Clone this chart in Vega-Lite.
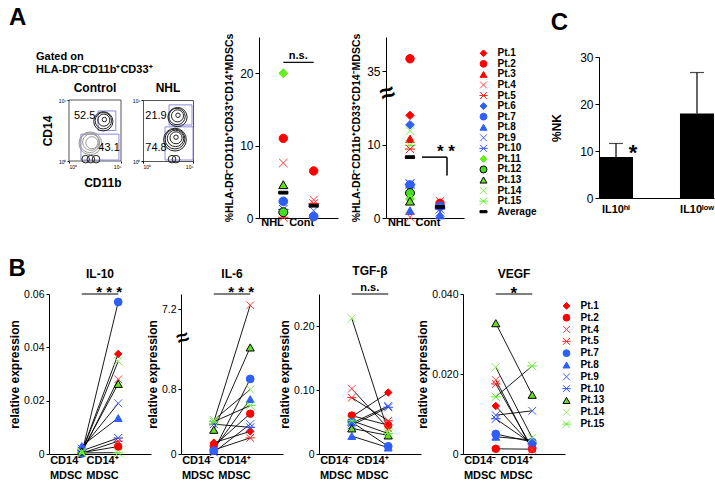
{
"$schema":"https://vega.github.io/schema/vega-lite/v6.json",
"padding":{"left":8,"top":6,"right":2,"bottom":2},
"background":"white",
"config":{"view":{"stroke":null},"font":"Liberation Sans",
 "axis":{"grid":false,"domainColor":"#000","tickColor":"#000","labelColor":"#000","titleColor":"#000","labelFontSize":12,"titleFontSize":11,"titleFontWeight":"bold","tickSize":4,"labelPadding":2,"titlePadding":4,"labelFont":"Liberation Sans","titleFont":"Liberation Sans"},
 "point":{"opacity":1,"filled":true},"text":{"color":"#000"},
 "title":{"color":"#000","font":"Liberation Sans"}},
"datasets":{
 "pct":[
  {"panel":"CD14+","grp":"NHL","pt":"Pt.11","v":20.0},{"panel":"CD14+","grp":"NHL","pt":"Pt.2","v":11.0},{"panel":"CD14+","grp":"NHL","pt":"Pt.4","v":7.6},{"panel":"CD14+","grp":"NHL","pt":"Pt.13","v":4.6},{"panel":"CD14+","grp":"NHL","pt":"Pt.7","v":2.3},{"panel":"CD14+","grp":"NHL","pt":"Pt.10","v":1.2},{"panel":"CD14+","grp":"NHL","pt":"Pt.5","v":0.1},{"panel":"CD14+","grp":"NHL","pt":"Pt.12","v":0.8},{"panel":"CD14+","grp":"NHL","pt":"Average","v":3.5},
  {"panel":"CD14+","grp":"Cont","pt":"Pt.2","v":6.5},{"panel":"CD14+","grp":"Cont","pt":"Pt.4","v":2.5},{"panel":"CD14+","grp":"Cont","pt":"Pt.5","v":2.0},{"panel":"CD14+","grp":"Cont","pt":"Pt.9","v":1.0},{"panel":"CD14+","grp":"Cont","pt":"Pt.7","v":0.2},{"panel":"CD14+","grp":"Cont","pt":"Average","v":1.7},
  {"panel":"CD14-","grp":"NHL","pt":"Pt.2","v":36.8},{"panel":"CD14-","grp":"NHL","pt":"Pt.1","v":14.0},{"panel":"CD14-","grp":"NHL","pt":"Pt.6","v":12.7},{"panel":"CD14-","grp":"NHL","pt":"Pt.14","v":11.9},{"panel":"CD14-","grp":"NHL","pt":"Pt.3","v":10.8},{"panel":"CD14-","grp":"NHL","pt":"Pt.15","v":9.9},{"panel":"CD14-","grp":"NHL","pt":"Pt.5","v":9.4},{"panel":"CD14-","grp":"NHL","pt":"Pt.9","v":4.7},{"panel":"CD14-","grp":"NHL","pt":"Pt.10","v":4.6},{"panel":"CD14-","grp":"NHL","pt":"Pt.7","v":4.5},{"panel":"CD14-","grp":"NHL","pt":"Pt.12","v":3.4},{"panel":"CD14-","grp":"NHL","pt":"Pt.11","v":2.6},{"panel":"CD14-","grp":"NHL","pt":"Pt.13","v":2.3},{"panel":"CD14-","grp":"NHL","pt":"Pt.8","v":1.0},{"panel":"CD14-","grp":"NHL","pt":"Pt.4","v":0.1},{"panel":"CD14-","grp":"NHL","pt":"Average","v":8.3},
  {"panel":"CD14-","grp":"Cont","pt":"Pt.4","v":2.3},{"panel":"CD14-","grp":"Cont","pt":"Pt.2","v":2.0},{"panel":"CD14-","grp":"Cont","pt":"Pt.7","v":1.6},{"panel":"CD14-","grp":"Cont","pt":"Pt.10","v":1.2},{"panel":"CD14-","grp":"Cont","pt":"Pt.9","v":0.8},{"panel":"CD14-","grp":"Cont","pt":"Pt.8","v":0.4},{"panel":"CD14-","grp":"Cont","pt":"Average","v":1.5}
 ],
 "legA":[{"pt":"Pt.1"},{"pt":"Pt.2"},{"pt":"Pt.3"},{"pt":"Pt.4"},{"pt":"Pt.5"},{"pt":"Pt.6"},{"pt":"Pt.7"},{"pt":"Pt.8"},{"pt":"Pt.9"},{"pt":"Pt.10"},{"pt":"Pt.11"},{"pt":"Pt.12"},{"pt":"Pt.13"},{"pt":"Pt.14"},{"pt":"Pt.15"},{"pt":"Average"}],
 "legB":[{"pt":"Pt.1"},{"pt":"Pt.2"},{"pt":"Pt.4"},{"pt":"Pt.5"},{"pt":"Pt.7"},{"pt":"Pt.8"},{"pt":"Pt.9"},{"pt":"Pt.10"},{"pt":"Pt.13"},{"pt":"Pt.14"},{"pt":"Pt.15"}],
 "nk":[{"grp":"IL10ʰⁱ","v":8.7,"err":11.6},{"grp":"IL10ˡᵒʷ","v":18.0,"err":26.7}],
 "frame":[{"x1":0,"x2":5,"y1":0,"y2":5}],
 "gates":[{"plot":"Control","x1":2.8,"x2":4.5,"y1":2.5,"y2":4.1},{"plot":"Control","x1":1.15,"x2":4.8,"y1":0.08,"y2":2.2},{"plot":"NHL","x1":2.6,"x2":4.9,"y1":2.95,"y2":4.6},{"plot":"NHL","x1":2.2,"x2":5.0,"y1":0.08,"y2":2.8}],
 "contours":[
  {"plot":"Control","cx":3.4,"cy":3.4,"lev":1,"tone":"dark"},{"plot":"Control","cx":3.35,"cy":3.35,"lev":2,"tone":"dark"},{"plot":"Control","cx":3.3,"cy":3.3,"lev":3,"tone":"dark"},{"plot":"Control","cx":3.3,"cy":3.25,"lev":3.8,"tone":"dark"},
  {"plot":"Control","cx":2.2,"cy":1.5,"lev":2,"tone":"light"},{"plot":"Control","cx":2.1,"cy":1.55,"lev":3,"tone":"light"},{"plot":"Control","cx":2.0,"cy":1.5,"lev":4,"tone":"light"},{"plot":"Control","cx":2.05,"cy":1.45,"lev":5,"tone":"light"},
  {"plot":"Control","cx":1.6,"cy":0.15,"lev":1.3,"tone":"dark"},{"plot":"Control","cx":2.1,"cy":0.15,"lev":1.3,"tone":"dark"},{"plot":"Control","cx":2.6,"cy":0.15,"lev":1.3,"tone":"dark"},
  {"plot":"NHL","cx":3.5,"cy":3.75,"lev":1,"tone":"dark"},{"plot":"NHL","cx":3.45,"cy":3.7,"lev":2,"tone":"dark"},{"plot":"NHL","cx":3.4,"cy":3.65,"lev":3,"tone":"dark"},{"plot":"NHL","cx":3.45,"cy":3.6,"lev":3.8,"tone":"dark"},
  {"plot":"NHL","cx":3.3,"cy":1.95,"lev":1,"tone":"dark"},{"plot":"NHL","cx":3.3,"cy":1.9,"lev":2,"tone":"dark"},{"plot":"NHL","cx":3.25,"cy":1.85,"lev":3,"tone":"dark"},{"plot":"NHL","cx":3.2,"cy":1.8,"lev":4,"tone":"dark"},{"plot":"NHL","cx":3.2,"cy":1.75,"lev":5,"tone":"dark"},
  {"plot":"NHL","cx":2.9,"cy":0.15,"lev":1.3,"tone":"dark"},{"plot":"NHL","cx":3.3,"cy":0.15,"lev":1.3,"tone":"dark"}
 ],
 "flowlab":[{"plot":"Control","lx":1.5,"ly":3.7,"pct":"52.5"},{"plot":"Control","lx":3.85,"ly":1.07,"pct":"43.1"},{"plot":"NHL","lx":1.3,"ly":3.7,"pct":"21.9"},{"plot":"NHL","lx":1.3,"ly":1.07,"pct":"74.8"}],
 "sig":[
  {"cy":"IL-10","g":"CD14⁻|MDSC","g2":"CD14⁺|MDSC","v":0.06,"s":"* * *"},
  {"cy":"IL-6","g":"CD14⁻|MDSC","g2":"CD14⁺|MDSC","v":7.4,"s":"* * *"},
  {"cy":"TGF","g":"CD14⁻|MDSC","g2":"CD14⁺|MDSC","v":0.25,"s":"n.s."},
  {"cy":"VEGF","g":"CD14⁻|MDSC","g2":"CD14⁺|MDSC","v":0.04,"s":"*"}
 ],
 "expr":[
  {"cy":"IL-10","g":"CD14⁻|MDSC","pt":"Pt.1","v":0.0008},{"cy":"IL-10","g":"CD14⁺|MDSC","pt":"Pt.1","v":0.0375},
  {"cy":"IL-10","g":"CD14⁻|MDSC","pt":"Pt.2","v":0.0005},{"cy":"IL-10","g":"CD14⁺|MDSC","pt":"Pt.2","v":0.0028},
  {"cy":"IL-10","g":"CD14⁻|MDSC","pt":"Pt.4","v":0.0004},{"cy":"IL-10","g":"CD14⁺|MDSC","pt":"Pt.4","v":0.028},
  {"cy":"IL-10","g":"CD14⁻|MDSC","pt":"Pt.5","v":0.0003},{"cy":"IL-10","g":"CD14⁺|MDSC","pt":"Pt.5","v":0.0048},
  {"cy":"IL-10","g":"CD14⁻|MDSC","pt":"Pt.7","v":0.0002},{"cy":"IL-10","g":"CD14⁺|MDSC","pt":"Pt.7","v":0.057},
  {"cy":"IL-10","g":"CD14⁻|MDSC","pt":"Pt.8","v":0.003},{"cy":"IL-10","g":"CD14⁺|MDSC","pt":"Pt.8","v":0.0135},
  {"cy":"IL-10","g":"CD14⁻|MDSC","pt":"Pt.9","v":0.002},{"cy":"IL-10","g":"CD14⁺|MDSC","pt":"Pt.9","v":0.019},
  {"cy":"IL-10","g":"CD14⁻|MDSC","pt":"Pt.10","v":0.0012},{"cy":"IL-10","g":"CD14⁺|MDSC","pt":"Pt.10","v":0.006},
  {"cy":"IL-10","g":"CD14⁻|MDSC","pt":"Pt.13","v":0.001},{"cy":"IL-10","g":"CD14⁺|MDSC","pt":"Pt.13","v":0.0263},
  {"cy":"IL-10","g":"CD14⁻|MDSC","pt":"Pt.14","v":0.0008},{"cy":"IL-10","g":"CD14⁺|MDSC","pt":"Pt.14","v":0.0348},
  {"cy":"IL-10","g":"CD14⁻|MDSC","pt":"Pt.15","v":0.0004},{"cy":"IL-10","g":"CD14⁺|MDSC","pt":"Pt.15","v":0.0005},
  {"cy":"IL-6","g":"CD14⁻|MDSC","pt":"Pt.1","v":0.14},{"cy":"IL-6","g":"CD14⁺|MDSC","pt":"Pt.1","v":0.28},
  {"cy":"IL-6","g":"CD14⁻|MDSC","pt":"Pt.2","v":0.10},{"cy":"IL-6","g":"CD14⁺|MDSC","pt":"Pt.2","v":0.50},
  {"cy":"IL-6","g":"CD14⁻|MDSC","pt":"Pt.4","v":0.40},{"cy":"IL-6","g":"CD14⁺|MDSC","pt":"Pt.4","v":7.25},
  {"cy":"IL-6","g":"CD14⁻|MDSC","pt":"Pt.5","v":0.05},{"cy":"IL-6","g":"CD14⁺|MDSC","pt":"Pt.5","v":0.20},
  {"cy":"IL-6","g":"CD14⁻|MDSC","pt":"Pt.7","v":0.04},{"cy":"IL-6","g":"CD14⁺|MDSC","pt":"Pt.7","v":0.93},
  {"cy":"IL-6","g":"CD14⁻|MDSC","pt":"Pt.8","v":0.06},{"cy":"IL-6","g":"CD14⁺|MDSC","pt":"Pt.8","v":0.68},
  {"cy":"IL-6","g":"CD14⁻|MDSC","pt":"Pt.9","v":0.02},{"cy":"IL-6","g":"CD14⁺|MDSC","pt":"Pt.9","v":0.37},
  {"cy":"IL-6","g":"CD14⁻|MDSC","pt":"Pt.10","v":0.37},{"cy":"IL-6","g":"CD14⁺|MDSC","pt":"Pt.10","v":0.33},
  {"cy":"IL-6","g":"CD14⁻|MDSC","pt":"Pt.13","v":0.30},{"cy":"IL-6","g":"CD14⁺|MDSC","pt":"Pt.13","v":1.32},
  {"cy":"IL-6","g":"CD14⁻|MDSC","pt":"Pt.14","v":0.42},{"cy":"IL-6","g":"CD14⁺|MDSC","pt":"Pt.14","v":0.80},
  {"cy":"IL-6","g":"CD14⁻|MDSC","pt":"Pt.15","v":0.40},{"cy":"IL-6","g":"CD14⁺|MDSC","pt":"Pt.15","v":0.60},
  {"cy":"TGF","g":"CD14⁻|MDSC","pt":"Pt.1","v":0.058},{"cy":"TGF","g":"CD14⁺|MDSC","pt":"Pt.1","v":0.096},
  {"cy":"TGF","g":"CD14⁻|MDSC","pt":"Pt.2","v":0.060},{"cy":"TGF","g":"CD14⁺|MDSC","pt":"Pt.2","v":0.045},
  {"cy":"TGF","g":"CD14⁻|MDSC","pt":"Pt.4","v":0.102},{"cy":"TGF","g":"CD14⁺|MDSC","pt":"Pt.4","v":0.040},
  {"cy":"TGF","g":"CD14⁻|MDSC","pt":"Pt.5","v":0.088},{"cy":"TGF","g":"CD14⁺|MDSC","pt":"Pt.5","v":0.052},
  {"cy":"TGF","g":"CD14⁻|MDSC","pt":"Pt.7","v":0.050},{"cy":"TGF","g":"CD14⁺|MDSC","pt":"Pt.7","v":0.012},
  {"cy":"TGF","g":"CD14⁻|MDSC","pt":"Pt.8","v":0.028},{"cy":"TGF","g":"CD14⁺|MDSC","pt":"Pt.8","v":0.010},
  {"cy":"TGF","g":"CD14⁻|MDSC","pt":"Pt.9","v":0.048},{"cy":"TGF","g":"CD14⁺|MDSC","pt":"Pt.9","v":0.075},
  {"cy":"TGF","g":"CD14⁻|MDSC","pt":"Pt.10","v":0.045},{"cy":"TGF","g":"CD14⁺|MDSC","pt":"Pt.10","v":0.073},
  {"cy":"TGF","g":"CD14⁻|MDSC","pt":"Pt.13","v":0.040},{"cy":"TGF","g":"CD14⁺|MDSC","pt":"Pt.13","v":0.029},
  {"cy":"TGF","g":"CD14⁻|MDSC","pt":"Pt.14","v":0.212},{"cy":"TGF","g":"CD14⁺|MDSC","pt":"Pt.14","v":0.035},
  {"cy":"TGF","g":"CD14⁻|MDSC","pt":"Pt.15","v":0.052},{"cy":"TGF","g":"CD14⁺|MDSC","pt":"Pt.15","v":0.032},
  {"cy":"VEGF","g":"CD14⁻|MDSC","pt":"Pt.1","v":0.0120},{"cy":"VEGF","g":"CD14⁺|MDSC","pt":"Pt.1","v":0.0020},
  {"cy":"VEGF","g":"CD14⁻|MDSC","pt":"Pt.2","v":0.0013},{"cy":"VEGF","g":"CD14⁺|MDSC","pt":"Pt.2","v":0.0012},
  {"cy":"VEGF","g":"CD14⁻|MDSC","pt":"Pt.4","v":0.0185},{"cy":"VEGF","g":"CD14⁺|MDSC","pt":"Pt.4","v":0.0010},
  {"cy":"VEGF","g":"CD14⁻|MDSC","pt":"Pt.5","v":0.0175},{"cy":"VEGF","g":"CD14⁺|MDSC","pt":"Pt.5","v":0.0015},
  {"cy":"VEGF","g":"CD14⁻|MDSC","pt":"Pt.7","v":0.0050},{"cy":"VEGF","g":"CD14⁺|MDSC","pt":"Pt.7","v":0.0030},
  {"cy":"VEGF","g":"CD14⁻|MDSC","pt":"Pt.8","v":0.0043},{"cy":"VEGF","g":"CD14⁺|MDSC","pt":"Pt.8","v":0.0035},
  {"cy":"VEGF","g":"CD14⁻|MDSC","pt":"Pt.9","v":0.0097},{"cy":"VEGF","g":"CD14⁺|MDSC","pt":"Pt.9","v":0.0108},
  {"cy":"VEGF","g":"CD14⁻|MDSC","pt":"Pt.10","v":0.0088},{"cy":"VEGF","g":"CD14⁺|MDSC","pt":"Pt.10","v":0.0025},
  {"cy":"VEGF","g":"CD14⁻|MDSC","pt":"Pt.13","v":0.0327},{"cy":"VEGF","g":"CD14⁺|MDSC","pt":"Pt.13","v":0.0148},
  {"cy":"VEGF","g":"CD14⁻|MDSC","pt":"Pt.14","v":0.0217},{"cy":"VEGF","g":"CD14⁺|MDSC","pt":"Pt.14","v":0.0040},
  {"cy":"VEGF","g":"CD14⁻|MDSC","pt":"Pt.15","v":0.0143},{"cy":"VEGF","g":"CD14⁺|MDSC","pt":"Pt.15","v":0.0220}
 ]
},
"resolve":{"scale":{"size":"independent","stroke":"independent","fill":"independent","shape":"independent","strokeWidth":"independent"}},
"columns":1,
"align":"none",
"spacing":30,
"concat":[
 {"hconcat":[
  {"resolve":{"scale":{"size":"independent","stroke":"independent","fill":"independent","shape":"independent","strokeWidth":"independent"}},
   "spacing":0,
   "vconcat":[
    {"width":162,"height":44,
     "data":{"values":[{"k":"a","s":"A"},{"k":"g1","s":"Gated on"},{"k":"g2","s":"HLA-DR⁻CD11b⁺CD33⁺"}]},
     "encoding":{"y":{"field":"k","type":"nominal","scale":{"type":"point","domain":["a","x1","x2","g1","g2"],"range":[-19,33],"padding":0},"axis":null},"text":{"field":"s"}},
     "layer":[
      {"transform":[{"filter":"datum.k=='a'"}],"mark":{"type":"text","align":"left","dx":-121,"fontSize":24,"fontWeight":"bold","baseline":"middle"}},
      {"transform":[{"filter":"datum.k!='a'"}],"mark":{"type":"text","align":"left","dx":-94,"fontSize":11,"fontWeight":"bold","baseline":"middle"}}
     ]},
    {"resolve":{"scale":{"size":"independent","stroke":"independent","fill":"independent","shape":"independent","strokeWidth":"independent"}},
     "spacing":9,
     "hconcat":[
      {"title":{"text":"Control","fontSize":12,"fontWeight":"bold","offset":3,"dx":10},"width":72,"height":61,
       "layer":[
        {"data":{"name":"frame"},"mark":{"type":"rect","fill":"#fff","fillOpacity":0,"stroke":"#555","strokeWidth":1},
         "encoding":{"x":{"field":"x1","type":"quantitative","scale":{"domain":[0,5],"range":[20,72],"nice":false,"zero":false},"axis":{"title":"CD11b","values":[0,1,2,3,4,5],"labelExpr":"'10'+['⁰','¹','²','³','⁴','⁵'][datum.value]","labelFontSize":5,"tickSize":2,"labelPadding":1,"titleFontSize":12,"titlePadding":8,"titleAnchor":"end","domain":false}},"x2":{"field":"x2"},
          "y":{"field":"y1","type":"quantitative","scale":{"domain":[0,5],"nice":false,"zero":false},"axis":{"title":"CD14","values":[0,1,2,3,4,5],"labelExpr":"'10'+['⁰','¹','²','³','⁴','⁵'][datum.value]","labelFontSize":5,"tickSize":2,"labelPadding":1,"titleFontSize":12,"titlePadding":4,"domain":false,"offset":-20}},"y2":{"field":"y2"}}},
        {"data":{"name":"gates"},"transform":[{"filter":"datum.plot=='Control'"}],"mark":{"type":"rect","fill":"#fff","fillOpacity":0,"stroke":"#8a8ae0","strokeWidth":1},
         "encoding":{"x":{"field":"x1","type":"quantitative"},"x2":{"field":"x2"},"y":{"field":"y1","type":"quantitative"},"y2":{"field":"y2"}}},
        {"data":{"name":"contours"},"transform":[{"filter":"datum.plot=='Control'"}],"mark":{"type":"point","filled":false,"shape":"circle","strokeWidth":1},
         "encoding":{"x":{"field":"cx","type":"quantitative"},"y":{"field":"cy","type":"quantitative"},"size":{"field":"lev","type":"quantitative","scale":{"domain":[1,5],"range":[20,520]},"legend":null},"stroke":{"field":"tone","type":"nominal","scale":{"domain":["dark","light"],"range":["#222","#999"]},"legend":null}}},
        {"data":{"name":"flowlab"},"transform":[{"filter":"datum.plot=='Control'"}],"mark":{"type":"text","fontSize":11},
         "encoding":{"x":{"field":"lx","type":"quantitative"},"y":{"field":"ly","type":"quantitative"},"text":{"field":"pct"}}}
       ]},
      {"title":{"text":"NHL","fontSize":12,"fontWeight":"bold","offset":3},"width":50,"height":61,"view":{"stroke":"#555"},
       "layer":[
        {"data":{"name":"gates"},"transform":[{"filter":"datum.plot=='NHL'"}],"mark":{"type":"rect","fill":"#fff","fillOpacity":0,"stroke":"#8a8ae0","strokeWidth":1},
         "encoding":{"x":{"field":"x1","type":"quantitative","scale":{"domain":[0,5],"nice":false,"zero":false},"axis":{"title":null,"values":[0,1,2,3,4,5],"labelExpr":"'10'+['⁰','¹','²','³','⁴','⁵'][datum.value]","labelFontSize":5,"tickSize":2,"labelPadding":1,"domain":false}},"x2":{"field":"x2"},
          "y":{"field":"y1","type":"quantitative","scale":{"domain":[0,5],"nice":false,"zero":false},"axis":{"title":null,"values":[0,1,2,3,4,5],"labelExpr":"'10'+['⁰','¹','²','³','⁴','⁵'][datum.value]","labelFontSize":5,"tickSize":2,"labelPadding":1,"domain":false}},"y2":{"field":"y2"}}},
        {"data":{"name":"contours"},"transform":[{"filter":"datum.plot=='NHL'"}],"mark":{"type":"point","filled":false,"shape":"circle","strokeWidth":1},
         "encoding":{"x":{"field":"cx","type":"quantitative"},"y":{"field":"cy","type":"quantitative"},"size":{"field":"lev","type":"quantitative","scale":{"domain":[1,5],"range":[20,520]},"legend":null},"stroke":{"field":"tone","type":"nominal","scale":{"domain":["dark","light"],"range":["#222","#999"]},"legend":null}}},
        {"data":{"name":"flowlab"},"transform":[{"filter":"datum.plot=='NHL'"}],"mark":{"type":"text","fontSize":11},
         "encoding":{"x":{"field":"lx","type":"quantitative"},"y":{"field":"ly","type":"quantitative"},"text":{"field":"pct"}}}
       ]}
     ]}
   ]},
  {"width":79,"height":181,
   "layer":[
    {"data":{"values":[{"grp":"NHL","grp2":"Cont","v":21.5}]},"mark":{"type":"rule","color":"#000","strokeWidth":1.2},
     "encoding":{"x":{"field":"grp","type":"nominal","scale":{"type":"point","domain":["NHL","Cont"],"padding":0.8}},"x2":{"field":"grp2"},"y":{"field":"v","type":"quantitative","scale":{"domain":[0,25],"nice":false}}}},
    {"data":{"values":[{"grp":"NHL","v":21.5,"s":"n.s."}]},"mark":{"type":"text","fontSize":11,"fontWeight":"bold","dx":15,"dy":-3,"baseline":"alphabetic"},
     "encoding":{"x":{"field":"grp","type":"nominal"},"y":{"field":"v","type":"quantitative"},"text":{"field":"s"}}},
    {"data":{"name":"pct"},"transform":[{"filter":"datum.panel=='CD14+'"}],"mark":{"type":"point"},
     "encoding":{"x":{"field":"grp","type":"nominal","axis":{"title":null,"labelAngle":0,"labelFontWeight":"bold","labelFontSize":11,"ticks":false,"labelPadding":4}},
      "y":{"field":"v","type":"quantitative","axis":{"title":"%HLA-DR⁻CD11b⁺CD33⁺CD14⁺MDSCs","values":[0,5,10,15,20,25],"titleFontSize":10.5,"titlePadding":5}},
      "shape":{"field":"pt","type":"nominal","scale":{"domain":["Pt.1","Pt.2","Pt.3","Pt.4","Pt.5","Pt.6","Pt.7","Pt.8","Pt.9","Pt.10","Pt.11","Pt.12","Pt.13","Pt.14","Pt.15","Average"],"range":["diamond","circle","triangle-up","M-1,-1L1,1M-1,1L1,-1","M-1,-1L1,1M-1,1L1,-1M-1.2,0L1.2,0","diamond","circle","triangle-up","M-1,-1L1,1M-1,1L1,-1","M-1,-1L1,1M-1,1L1,-1M-1.2,0L1.2,0","diamond","circle","triangle-up","M-1,-1L1,1M-1,1L1,-1","M-1,-1L1,1M-1,1L1,-1M-1.2,0L1.2,0","M-1,-0.3L1,-0.3L1,0.3L-1,0.3Z"]},"legend":null},
      "fill":{"field":"pt","type":"nominal","scale":{"domain":["Pt.1","Pt.2","Pt.3","Pt.4","Pt.5","Pt.6","Pt.7","Pt.8","Pt.9","Pt.10","Pt.11","Pt.12","Pt.13","Pt.14","Pt.15","Average"],"range":["#ff0000","#ff0000","#ff0000","#ff4040","#ff2020","#2f5ff5","#2f5ff5","#2f5ff5","#4060ff","#3050f0","#66ee22","#44dd22","#66dd22","#88ee55","#66ee33","#000000"]},"legend":null},
      "stroke":{"field":"pt","type":"nominal","scale":{"domain":["Pt.1","Pt.2","Pt.3","Pt.4","Pt.5","Pt.6","Pt.7","Pt.8","Pt.9","Pt.10","Pt.11","Pt.12","Pt.13","Pt.14","Pt.15","Average"],"range":["#ff0000","#ff0000","#ff0000","#ff4040","#ff2020","#2f5ff5","#2f5ff5","#2f5ff5","#4060ff","#3050f0","#66ee22","#000000","#000000","#88ee55","#66ee33","#000000"]},"legend":null},
      "strokeWidth":{"field":"pt","type":"ordinal","scale":{"domain":["Pt.1","Pt.2","Pt.3","Pt.4","Pt.5","Pt.6","Pt.7","Pt.8","Pt.9","Pt.10","Pt.11","Pt.12","Pt.13","Pt.14","Pt.15","Average"],"range":[1,1,1,1.3,1.8,1,1,1,1.3,1.8,1,1.6,1.6,1.3,1.8,0]},"legend":null},
      "size":{"field":"pt","type":"ordinal","scale":{"domain":["Pt.1","Pt.2","Pt.3","Pt.4","Pt.5","Pt.6","Pt.7","Pt.8","Pt.9","Pt.10","Pt.11","Pt.12","Pt.13","Pt.14","Pt.15","Average"],"range":[70,85,80,90,90,40,85,70,90,90,50,85,80,90,90,400]},"legend":null}}}
   ]},
  {"width":78,"height":181,
   "layer":[
    {"data":{"values":[{"grp":"NHL","grp2":"Cont","v":8.3}]},"mark":{"type":"rule","color":"#000","strokeWidth":1.5,"xOffset":12,"x2Offset":7},
     "encoding":{"x":{"field":"grp","type":"nominal","scale":{"type":"point","domain":["NHL","Cont"],"padding":0.8}},"x2":{"field":"grp2"},"y":{"field":"v","type":"quantitative","scale":{"domain":[0,15,35,40],"range":[181,71,34,0],"nice":false,"zero":false}}}},
    {"data":{"values":[{"grp":"Cont","v":8.3,"v2":5.8}]},"mark":{"type":"rule","color":"#000","strokeWidth":1.5,"xOffset":7},
     "encoding":{"x":{"field":"grp","type":"nominal"},"y":{"field":"v","type":"quantitative"},"y2":{"field":"v2"}}},
    {"data":{"values":[{"grp":"Cont","v":9.6,"s":"* *"}]},"mark":{"type":"text","fontSize":17,"fontWeight":"bold","dx":6,"baseline":"middle","dy":4},
     "encoding":{"x":{"field":"grp","type":"nominal"},"y":{"field":"v","type":"quantitative"},"text":{"field":"s"}}},
    {"data":{"values":[{"grp":"NHL","v":27.4}]},"mark":{"type":"text","text":"≈","fontSize":26,"fontWeight":"bold","dx":-24,"baseline":"middle","angle":-20},
     "encoding":{"x":{"field":"grp","type":"nominal"},"y":{"field":"v","type":"quantitative"}}},
    {"data":{"name":"pct"},"transform":[{"filter":"datum.panel=='CD14-'"}],"mark":{"type":"point"},
     "encoding":{"x":{"field":"grp","type":"nominal","axis":{"title":null,"labelAngle":0,"labelFontWeight":"bold","labelFontSize":11,"ticks":false,"labelPadding":4}},
      "y":{"field":"v","type":"quantitative","axis":{"title":"%HLA-DR⁻CD11b⁺CD33⁺CD14⁻MDSCs","values":[0,5,10,15,35,40],"titleFontSize":10.5,"titlePadding":5}},
      "shape":{"field":"pt","type":"nominal","scale":{"domain":["Pt.1","Pt.2","Pt.3","Pt.4","Pt.5","Pt.6","Pt.7","Pt.8","Pt.9","Pt.10","Pt.11","Pt.12","Pt.13","Pt.14","Pt.15","Average"],"range":["diamond","circle","triangle-up","M-1,-1L1,1M-1,1L1,-1","M-1,-1L1,1M-1,1L1,-1M-1.2,0L1.2,0","diamond","circle","triangle-up","M-1,-1L1,1M-1,1L1,-1","M-1,-1L1,1M-1,1L1,-1M-1.2,0L1.2,0","diamond","circle","triangle-up","M-1,-1L1,1M-1,1L1,-1","M-1,-1L1,1M-1,1L1,-1M-1.2,0L1.2,0","M-1,-0.3L1,-0.3L1,0.3L-1,0.3Z"]},"legend":null},
      "fill":{"field":"pt","type":"nominal","scale":{"domain":["Pt.1","Pt.2","Pt.3","Pt.4","Pt.5","Pt.6","Pt.7","Pt.8","Pt.9","Pt.10","Pt.11","Pt.12","Pt.13","Pt.14","Pt.15","Average"],"range":["#ff0000","#ff0000","#ff0000","#ff4040","#ff2020","#2f5ff5","#2f5ff5","#2f5ff5","#4060ff","#3050f0","#66ee22","#44dd22","#66dd22","#88ee55","#66ee33","#000000"]},"legend":null},
      "stroke":{"field":"pt","type":"nominal","scale":{"domain":["Pt.1","Pt.2","Pt.3","Pt.4","Pt.5","Pt.6","Pt.7","Pt.8","Pt.9","Pt.10","Pt.11","Pt.12","Pt.13","Pt.14","Pt.15","Average"],"range":["#ff0000","#ff0000","#ff0000","#ff4040","#ff2020","#2f5ff5","#2f5ff5","#2f5ff5","#4060ff","#3050f0","#66ee22","#000000","#000000","#88ee55","#66ee33","#000000"]},"legend":null},
      "strokeWidth":{"field":"pt","type":"ordinal","scale":{"domain":["Pt.1","Pt.2","Pt.3","Pt.4","Pt.5","Pt.6","Pt.7","Pt.8","Pt.9","Pt.10","Pt.11","Pt.12","Pt.13","Pt.14","Pt.15","Average"],"range":[1,1,1,1.3,1.8,1,1,1,1.3,1.8,1,1.6,1.6,1.3,1.8,0]},"legend":null},
      "size":{"field":"pt","type":"ordinal","scale":{"domain":["Pt.1","Pt.2","Pt.3","Pt.4","Pt.5","Pt.6","Pt.7","Pt.8","Pt.9","Pt.10","Pt.11","Pt.12","Pt.13","Pt.14","Pt.15","Average"],"range":[70,85,80,90,90,40,85,70,90,90,50,85,80,90,90,400]},"legend":null}}}
   ]},
  {"width":1,"height":181,"data":{"name":"legA"},
   "layer":[
    {"mark":{"type":"point"},
     "encoding":{"y":{"field":"pt","type":"nominal","scale":{"type":"point","domain":["Pt.1","Pt.2","Pt.3","Pt.4","Pt.5","Pt.6","Pt.7","Pt.8","Pt.9","Pt.10","Pt.11","Pt.12","Pt.13","Pt.14","Pt.15","Average"],"range":[11,180]},"axis":null},
      "shape":{"field":"pt","type":"nominal","scale":{"domain":["Pt.1","Pt.2","Pt.3","Pt.4","Pt.5","Pt.6","Pt.7","Pt.8","Pt.9","Pt.10","Pt.11","Pt.12","Pt.13","Pt.14","Pt.15","Average"],"range":["diamond","circle","triangle-up","M-1,-1L1,1M-1,1L1,-1","M-1,-1L1,1M-1,1L1,-1M-1.2,0L1.2,0","diamond","circle","triangle-up","M-1,-1L1,1M-1,1L1,-1","M-1,-1L1,1M-1,1L1,-1M-1.2,0L1.2,0","diamond","circle","triangle-up","M-1,-1L1,1M-1,1L1,-1","M-1,-1L1,1M-1,1L1,-1M-1.2,0L1.2,0","M-1,-0.3L1,-0.3L1,0.3L-1,0.3Z"]},"legend":null},
      "fill":{"field":"pt","type":"nominal","scale":{"domain":["Pt.1","Pt.2","Pt.3","Pt.4","Pt.5","Pt.6","Pt.7","Pt.8","Pt.9","Pt.10","Pt.11","Pt.12","Pt.13","Pt.14","Pt.15","Average"],"range":["#ff0000","#ff0000","#ff0000","#ff4040","#ff2020","#2f5ff5","#2f5ff5","#2f5ff5","#4060ff","#3050f0","#66ee22","#44dd22","#66dd22","#88ee55","#66ee33","#000000"]},"legend":null},
      "stroke":{"field":"pt","type":"nominal","scale":{"domain":["Pt.1","Pt.2","Pt.3","Pt.4","Pt.5","Pt.6","Pt.7","Pt.8","Pt.9","Pt.10","Pt.11","Pt.12","Pt.13","Pt.14","Pt.15","Average"],"range":["#ff0000","#ff0000","#ff0000","#ff4040","#ff2020","#2f5ff5","#2f5ff5","#2f5ff5","#4060ff","#3050f0","#66ee22","#000000","#000000","#88ee55","#66ee33","#000000"]},"legend":null},
      "strokeWidth":{"field":"pt","type":"ordinal","scale":{"domain":["Pt.1","Pt.2","Pt.3","Pt.4","Pt.5","Pt.6","Pt.7","Pt.8","Pt.9","Pt.10","Pt.11","Pt.12","Pt.13","Pt.14","Pt.15","Average"],"range":[1,1,1,1.3,1.8,1,1,1,1.3,1.8,1,1.6,1.6,1.3,1.8,0]},"legend":null},
      "size":{"field":"pt","type":"ordinal","scale":{"domain":["Pt.1","Pt.2","Pt.3","Pt.4","Pt.5","Pt.6","Pt.7","Pt.8","Pt.9","Pt.10","Pt.11","Pt.12","Pt.13","Pt.14","Pt.15","Average"],"range":[45,50,50,45,45,25,50,35,45,45,25,50,50,45,45,80]},"legend":null}}},
    {"mark":{"type":"text","align":"left","dx":14,"fontSize":10,"fontWeight":"bold","baseline":"middle"},
     "encoding":{"y":{"field":"pt","type":"nominal"},"text":{"field":"pt"}}}
   ]},
  {"title":{"text":"C","anchor":"start","fontSize":24,"fontWeight":"bold","offset":2},"width":115,"height":161,"data":{"name":"nk"},
   "layer":[
    {"mark":{"type":"bar","color":"#000"},
     "encoding":{"x":{"field":"grp","type":"nominal","scale":{"domain":["IL10ʰⁱ","IL10ˡᵒʷ"],"paddingInner":0.58,"paddingOuter":0},"axis":{"title":null,"labelAngle":0,"labelFontWeight":"bold","ticks":false,"labelPadding":5,"labelFontSize":11}},
      "y":{"field":"v","type":"quantitative","scale":{"domain":[0,30],"range":[161,20],"nice":false},"axis":{"title":"%NK","values":[0,5,10,15,20,25,30],"titleFontSize":12,"titlePadding":16}}}},
    {"mark":{"type":"rule","color":"#000","strokeWidth":1.2},
     "encoding":{"x":{"field":"grp","type":"nominal"},"y":{"field":"v","type":"quantitative"},"y2":{"field":"err"}}},
    {"mark":{"type":"tick","color":"#000","thickness":1.2,"size":14},
     "encoding":{"x":{"field":"grp","type":"nominal"},"y":{"field":"err","type":"quantitative"}}},
    {"transform":[{"filter":"datum.grp=='IL10ʰⁱ'"}],"mark":{"type":"text","text":"*","fontSize":22,"fontWeight":"bold","dx":17,"dy":10,"baseline":"middle"},
     "encoding":{"x":{"field":"grp","type":"nominal"},"y":{"field":"err","type":"quantitative"}}}
   ]}
 ],
 "spacing":13,
 "resolve":{"scale":{"size":"independent","stroke":"independent","fill":"independent","shape":"independent","strokeWidth":"independent"}}},
 {"title":{"text":"B","anchor":"start","fontSize":24,"fontWeight":"bold","offset":0,"dy":16},
  "spacing":-5,
  "resolve":{"scale":{"size":"independent","stroke":"independent","fill":"independent","shape":"independent","strokeWidth":"independent"}},
  "hconcat":[
   {"title":{"text":"IL-10","fontSize":12,"fontWeight":"bold","offset":4},"width":102,"height":160,
    "layer":[
     {"data":{"name":"sig"},"transform":[{"filter":"datum.cy=='IL-10'"}],"mark":{"type":"rule","color":"#000","strokeWidth":1.2},
      "encoding":{"x":{"field":"g","type":"nominal","scale":{"type":"point","domain":["CD14⁻|MDSC","CD14⁺|MDSC"],"padding":0.9}},"x2":{"field":"g2"},"y":{"field":"v","type":"quantitative","scale":{"domain":[0,0.06],"nice":false}}}},
     {"data":{"name":"sig"},"transform":[{"filter":"datum.cy=='IL-10'"}],"mark":{"type":"text","fontSize":15,"fontWeight":"bold","align":"right","dx":4,"dy":3,"baseline":"alphabetic"},
      "encoding":{"x":{"field":"g2","type":"nominal"},"y":{"field":"v","type":"quantitative"},"text":{"field":"s"}}},
     {"data":{"name":"expr"},"transform":[{"filter":"datum.cy=='IL-10'"}],"mark":{"type":"line","color":"#000","strokeWidth":0.9},
      "encoding":{"x":{"field":"g","type":"nominal"},"y":{"field":"v","type":"quantitative"},"detail":{"field":"pt"}}},
     {"data":{"name":"expr"},"transform":[{"filter":"datum.cy=='IL-10'"}],"mark":{"type":"point"},
      "encoding":{"x":{"field":"g","type":"nominal","axis":{"title":null,"labelAngle":0,"labelFontWeight":"bold","labelFontSize":11,"ticks":false,"labelPadding":6,"labelExpr":"split(datum.label,'|')","labelLineHeight":15}},
       "y":{"field":"v","type":"quantitative","axis":{"title":"relative expression","values":[0,0.01,0.02,0.03,0.04,0.05,0.06],"labelExpr":"datum.value==0?'0':format(datum.value,'.2f')","labelFontSize":10.5,"titleFontSize":12,"titlePadding":2,"tickSize":3}},
       "shape":{"field":"pt","type":"nominal","scale":{"domain":["Pt.1","Pt.2","Pt.3","Pt.4","Pt.5","Pt.6","Pt.7","Pt.8","Pt.9","Pt.10","Pt.11","Pt.12","Pt.13","Pt.14","Pt.15","Average"],"range":["diamond","circle","triangle-up","M-1,-1L1,1M-1,1L1,-1","M-1,-1L1,1M-1,1L1,-1M-1.2,0L1.2,0","diamond","circle","triangle-up","M-1,-1L1,1M-1,1L1,-1","M-1,-1L1,1M-1,1L1,-1M-1.2,0L1.2,0","diamond","circle","triangle-up","M-1,-1L1,1M-1,1L1,-1","M-1,-1L1,1M-1,1L1,-1M-1.2,0L1.2,0","M-1,-0.3L1,-0.3L1,0.3L-1,0.3Z"]},"legend":null},
       "fill":{"field":"pt","type":"nominal","scale":{"domain":["Pt.1","Pt.2","Pt.3","Pt.4","Pt.5","Pt.6","Pt.7","Pt.8","Pt.9","Pt.10","Pt.11","Pt.12","Pt.13","Pt.14","Pt.15","Average"],"range":["#ff0000","#ff0000","#ff0000","#ff4040","#ff2020","#2f5ff5","#2f5ff5","#2f5ff5","#4060ff","#3050f0","#66ee22","#44dd22","#66dd22","#88ee55","#66ee33","#000000"]},"legend":null},
       "stroke":{"field":"pt","type":"nominal","scale":{"domain":["Pt.1","Pt.2","Pt.3","Pt.4","Pt.5","Pt.6","Pt.7","Pt.8","Pt.9","Pt.10","Pt.11","Pt.12","Pt.13","Pt.14","Pt.15","Average"],"range":["#ff0000","#ff0000","#ff0000","#ff4040","#ff2020","#2f5ff5","#2f5ff5","#2f5ff5","#4060ff","#3050f0","#66ee22","#000000","#000000","#88ee55","#66ee33","#000000"]},"legend":null},
       "strokeWidth":{"field":"pt","type":"ordinal","scale":{"domain":["Pt.1","Pt.2","Pt.3","Pt.4","Pt.5","Pt.6","Pt.7","Pt.8","Pt.9","Pt.10","Pt.11","Pt.12","Pt.13","Pt.14","Pt.15","Average"],"range":[1,1,1,1.3,1.8,1,1,1,1.3,1.8,1,1.6,1.6,1.3,1.8,0]},"legend":null},
       "size":{"field":"pt","type":"ordinal","scale":{"domain":["Pt.1","Pt.2","Pt.3","Pt.4","Pt.5","Pt.6","Pt.7","Pt.8","Pt.9","Pt.10","Pt.11","Pt.12","Pt.13","Pt.14","Pt.15","Average"],"range":[55,70,60,60,60,40,70,55,60,60,40,70,70,60,60,300]},"legend":null}}}
    ]},
   {"title":{"text":"IL-6","fontSize":12,"fontWeight":"bold","offset":4},"width":102,"height":160,
    "layer":[
     {"data":{"name":"sig"},"transform":[{"filter":"datum.cy=='IL-6'"}],"mark":{"type":"rule","color":"#000","strokeWidth":1.2},
      "encoding":{"x":{"field":"g","type":"nominal","scale":{"type":"point","domain":["CD14⁻|MDSC","CD14⁺|MDSC"],"padding":0.9}},"x2":{"field":"g2"},"y":{"field":"v","type":"quantitative","scale":{"domain":[0,1.4,7.2,7.4],"range":[160,47,15,0],"nice":false,"zero":false}}}},
     {"data":{"name":"sig"},"transform":[{"filter":"datum.cy=='IL-6'"}],"mark":{"type":"text","fontSize":15,"fontWeight":"bold","align":"right","dx":4,"dy":3,"baseline":"alphabetic"},
      "encoding":{"x":{"field":"g2","type":"nominal"},"y":{"field":"v","type":"quantitative"},"text":{"field":"s"}}},
     {"data":{"values":[{"g":"CD14⁻|MDSC","v":4.0}]},"mark":{"type":"text","text":"≈","fontSize":22,"fontWeight":"bold","dx":-33,"baseline":"middle","angle":-20},
      "encoding":{"x":{"field":"g","type":"nominal"},"y":{"field":"v","type":"quantitative"}}},
     {"data":{"name":"expr"},"transform":[{"filter":"datum.cy=='IL-6'"}],"mark":{"type":"line","color":"#000","strokeWidth":0.9},
      "encoding":{"x":{"field":"g","type":"nominal"},"y":{"field":"v","type":"quantitative"},"detail":{"field":"pt"}}},
     {"data":{"name":"expr"},"transform":[{"filter":"datum.cy=='IL-6'"}],"mark":{"type":"point"},
      "encoding":{"x":{"field":"g","type":"nominal","axis":{"title":null,"labelAngle":0,"labelFontWeight":"bold","labelFontSize":11,"ticks":false,"labelPadding":6,"labelExpr":"split(datum.label,'|')","labelLineHeight":15}},
       "y":{"field":"v","type":"quantitative","axis":{"title":"relative expression","values":[0,0.2,0.4,0.6,0.8,1.0,1.2,1.4,7.2,7.4],"labelExpr":"datum.value==0?'0':format(datum.value,'.1f')","labelFontSize":10.5,"titleFontSize":12,"titlePadding":2,"tickSize":3}},
       "shape":{"field":"pt","type":"nominal","scale":{"domain":["Pt.1","Pt.2","Pt.3","Pt.4","Pt.5","Pt.6","Pt.7","Pt.8","Pt.9","Pt.10","Pt.11","Pt.12","Pt.13","Pt.14","Pt.15","Average"],"range":["diamond","circle","triangle-up","M-1,-1L1,1M-1,1L1,-1","M-1,-1L1,1M-1,1L1,-1M-1.2,0L1.2,0","diamond","circle","triangle-up","M-1,-1L1,1M-1,1L1,-1","M-1,-1L1,1M-1,1L1,-1M-1.2,0L1.2,0","diamond","circle","triangle-up","M-1,-1L1,1M-1,1L1,-1","M-1,-1L1,1M-1,1L1,-1M-1.2,0L1.2,0","M-1,-0.3L1,-0.3L1,0.3L-1,0.3Z"]},"legend":null},
       "fill":{"field":"pt","type":"nominal","scale":{"domain":["Pt.1","Pt.2","Pt.3","Pt.4","Pt.5","Pt.6","Pt.7","Pt.8","Pt.9","Pt.10","Pt.11","Pt.12","Pt.13","Pt.14","Pt.15","Average"],"range":["#ff0000","#ff0000","#ff0000","#ff4040","#ff2020","#2f5ff5","#2f5ff5","#2f5ff5","#4060ff","#3050f0","#66ee22","#44dd22","#66dd22","#88ee55","#66ee33","#000000"]},"legend":null},
       "stroke":{"field":"pt","type":"nominal","scale":{"domain":["Pt.1","Pt.2","Pt.3","Pt.4","Pt.5","Pt.6","Pt.7","Pt.8","Pt.9","Pt.10","Pt.11","Pt.12","Pt.13","Pt.14","Pt.15","Average"],"range":["#ff0000","#ff0000","#ff0000","#ff4040","#ff2020","#2f5ff5","#2f5ff5","#2f5ff5","#4060ff","#3050f0","#66ee22","#000000","#000000","#88ee55","#66ee33","#000000"]},"legend":null},
       "strokeWidth":{"field":"pt","type":"ordinal","scale":{"domain":["Pt.1","Pt.2","Pt.3","Pt.4","Pt.5","Pt.6","Pt.7","Pt.8","Pt.9","Pt.10","Pt.11","Pt.12","Pt.13","Pt.14","Pt.15","Average"],"range":[1,1,1,1.3,1.8,1,1,1,1.3,1.8,1,1.6,1.6,1.3,1.8,0]},"legend":null},
       "size":{"field":"pt","type":"ordinal","scale":{"domain":["Pt.1","Pt.2","Pt.3","Pt.4","Pt.5","Pt.6","Pt.7","Pt.8","Pt.9","Pt.10","Pt.11","Pt.12","Pt.13","Pt.14","Pt.15","Average"],"range":[55,70,60,60,60,40,70,55,60,60,40,70,70,60,60,300]},"legend":null}}}
    ]},
   {"title":{"text":"TGF-β","fontSize":12,"fontWeight":"bold","offset":4},"width":102,"height":160,
    "layer":[
     {"data":{"name":"sig"},"transform":[{"filter":"datum.cy=='TGF'"}],"mark":{"type":"rule","color":"#000","strokeWidth":1.2},
      "encoding":{"x":{"field":"g","type":"nominal","scale":{"type":"point","domain":["CD14⁻|MDSC","CD14⁺|MDSC"],"padding":0.9}},"x2":{"field":"g2"},"y":{"field":"v","type":"quantitative","scale":{"domain":[0,0.25],"nice":false}}}},
     {"data":{"name":"sig"},"transform":[{"filter":"datum.cy=='TGF'"}],"mark":{"type":"text","fontSize":11,"fontWeight":"bold","align":"center","dx":18,"dy":-3,"baseline":"alphabetic"},
      "encoding":{"x":{"field":"g","type":"nominal"},"y":{"field":"v","type":"quantitative"},"text":{"field":"s"}}},
     {"data":{"name":"expr"},"transform":[{"filter":"datum.cy=='TGF'"}],"mark":{"type":"line","color":"#000","strokeWidth":0.9},
      "encoding":{"x":{"field":"g","type":"nominal"},"y":{"field":"v","type":"quantitative"},"detail":{"field":"pt"}}},
     {"data":{"name":"expr"},"transform":[{"filter":"datum.cy=='TGF'"}],"mark":{"type":"point"},
      "encoding":{"x":{"field":"g","type":"nominal","axis":{"title":null,"labelAngle":0,"labelFontWeight":"bold","labelFontSize":11,"ticks":false,"labelPadding":6,"labelExpr":"split(datum.label,'|')","labelLineHeight":15}},
       "y":{"field":"v","type":"quantitative","axis":{"title":"relative expression","values":[0,0.05,0.1,0.15,0.2,0.25],"labelExpr":"datum.value==0?'0':format(datum.value,'.2f')","labelFontSize":10.5,"titleFontSize":12,"titlePadding":2,"tickSize":3}},
       "shape":{"field":"pt","type":"nominal","scale":{"domain":["Pt.1","Pt.2","Pt.3","Pt.4","Pt.5","Pt.6","Pt.7","Pt.8","Pt.9","Pt.10","Pt.11","Pt.12","Pt.13","Pt.14","Pt.15","Average"],"range":["diamond","circle","triangle-up","M-1,-1L1,1M-1,1L1,-1","M-1,-1L1,1M-1,1L1,-1M-1.2,0L1.2,0","diamond","circle","triangle-up","M-1,-1L1,1M-1,1L1,-1","M-1,-1L1,1M-1,1L1,-1M-1.2,0L1.2,0","diamond","circle","triangle-up","M-1,-1L1,1M-1,1L1,-1","M-1,-1L1,1M-1,1L1,-1M-1.2,0L1.2,0","M-1,-0.3L1,-0.3L1,0.3L-1,0.3Z"]},"legend":null},
       "fill":{"field":"pt","type":"nominal","scale":{"domain":["Pt.1","Pt.2","Pt.3","Pt.4","Pt.5","Pt.6","Pt.7","Pt.8","Pt.9","Pt.10","Pt.11","Pt.12","Pt.13","Pt.14","Pt.15","Average"],"range":["#ff0000","#ff0000","#ff0000","#ff4040","#ff2020","#2f5ff5","#2f5ff5","#2f5ff5","#4060ff","#3050f0","#66ee22","#44dd22","#66dd22","#88ee55","#66ee33","#000000"]},"legend":null},
       "stroke":{"field":"pt","type":"nominal","scale":{"domain":["Pt.1","Pt.2","Pt.3","Pt.4","Pt.5","Pt.6","Pt.7","Pt.8","Pt.9","Pt.10","Pt.11","Pt.12","Pt.13","Pt.14","Pt.15","Average"],"range":["#ff0000","#ff0000","#ff0000","#ff4040","#ff2020","#2f5ff5","#2f5ff5","#2f5ff5","#4060ff","#3050f0","#66ee22","#000000","#000000","#88ee55","#66ee33","#000000"]},"legend":null},
       "strokeWidth":{"field":"pt","type":"ordinal","scale":{"domain":["Pt.1","Pt.2","Pt.3","Pt.4","Pt.5","Pt.6","Pt.7","Pt.8","Pt.9","Pt.10","Pt.11","Pt.12","Pt.13","Pt.14","Pt.15","Average"],"range":[1,1,1,1.3,1.8,1,1,1,1.3,1.8,1,1.6,1.6,1.3,1.8,0]},"legend":null},
       "size":{"field":"pt","type":"ordinal","scale":{"domain":["Pt.1","Pt.2","Pt.3","Pt.4","Pt.5","Pt.6","Pt.7","Pt.8","Pt.9","Pt.10","Pt.11","Pt.12","Pt.13","Pt.14","Pt.15","Average"],"range":[55,70,60,60,60,40,70,55,60,60,40,70,70,60,60,300]},"legend":null}}}
    ]},
   {"title":{"text":"VEGF","fontSize":12,"fontWeight":"bold","offset":4},"width":102,"height":160,
    "layer":[
     {"data":{"name":"sig"},"transform":[{"filter":"datum.cy=='VEGF'"}],"mark":{"type":"rule","color":"#000","strokeWidth":1.2},
      "encoding":{"x":{"field":"g","type":"nominal","scale":{"type":"point","domain":["CD14⁻|MDSC","CD14⁺|MDSC"],"padding":0.9}},"x2":{"field":"g2"},"y":{"field":"v","type":"quantitative","scale":{"domain":[0,0.04],"nice":false}}}},
     {"data":{"name":"sig"},"transform":[{"filter":"datum.cy=='VEGF'"}],"mark":{"type":"text","fontSize":17,"fontWeight":"bold","align":"center","dx":18,"dy":5,"baseline":"alphabetic"},
      "encoding":{"x":{"field":"g","type":"nominal"},"y":{"field":"v","type":"quantitative"},"text":{"field":"s"}}},
     {"data":{"name":"expr"},"transform":[{"filter":"datum.cy=='VEGF'"}],"mark":{"type":"line","color":"#000","strokeWidth":0.9},
      "encoding":{"x":{"field":"g","type":"nominal"},"y":{"field":"v","type":"quantitative"},"detail":{"field":"pt"}}},
     {"data":{"name":"expr"},"transform":[{"filter":"datum.cy=='VEGF'"}],"mark":{"type":"point"},
      "encoding":{"x":{"field":"g","type":"nominal","axis":{"title":null,"labelAngle":0,"labelFontWeight":"bold","labelFontSize":11,"ticks":false,"labelPadding":6,"labelExpr":"split(datum.label,'|')","labelLineHeight":15}},
       "y":{"field":"v","type":"quantitative","axis":{"title":"relative expression","values":[0,0.005,0.01,0.015,0.02,0.025,0.03,0.035,0.04],"labelExpr":"datum.value==0?'0':format(datum.value,'.3f')","labelFontSize":10.5,"titleFontSize":12,"titlePadding":2,"tickSize":3}},
       "shape":{"field":"pt","type":"nominal","scale":{"domain":["Pt.1","Pt.2","Pt.3","Pt.4","Pt.5","Pt.6","Pt.7","Pt.8","Pt.9","Pt.10","Pt.11","Pt.12","Pt.13","Pt.14","Pt.15","Average"],"range":["diamond","circle","triangle-up","M-1,-1L1,1M-1,1L1,-1","M-1,-1L1,1M-1,1L1,-1M-1.2,0L1.2,0","diamond","circle","triangle-up","M-1,-1L1,1M-1,1L1,-1","M-1,-1L1,1M-1,1L1,-1M-1.2,0L1.2,0","diamond","circle","triangle-up","M-1,-1L1,1M-1,1L1,-1","M-1,-1L1,1M-1,1L1,-1M-1.2,0L1.2,0","M-1,-0.3L1,-0.3L1,0.3L-1,0.3Z"]},"legend":null},
       "fill":{"field":"pt","type":"nominal","scale":{"domain":["Pt.1","Pt.2","Pt.3","Pt.4","Pt.5","Pt.6","Pt.7","Pt.8","Pt.9","Pt.10","Pt.11","Pt.12","Pt.13","Pt.14","Pt.15","Average"],"range":["#ff0000","#ff0000","#ff0000","#ff4040","#ff2020","#2f5ff5","#2f5ff5","#2f5ff5","#4060ff","#3050f0","#66ee22","#44dd22","#66dd22","#88ee55","#66ee33","#000000"]},"legend":null},
       "stroke":{"field":"pt","type":"nominal","scale":{"domain":["Pt.1","Pt.2","Pt.3","Pt.4","Pt.5","Pt.6","Pt.7","Pt.8","Pt.9","Pt.10","Pt.11","Pt.12","Pt.13","Pt.14","Pt.15","Average"],"range":["#ff0000","#ff0000","#ff0000","#ff4040","#ff2020","#2f5ff5","#2f5ff5","#2f5ff5","#4060ff","#3050f0","#66ee22","#000000","#000000","#88ee55","#66ee33","#000000"]},"legend":null},
       "strokeWidth":{"field":"pt","type":"ordinal","scale":{"domain":["Pt.1","Pt.2","Pt.3","Pt.4","Pt.5","Pt.6","Pt.7","Pt.8","Pt.9","Pt.10","Pt.11","Pt.12","Pt.13","Pt.14","Pt.15","Average"],"range":[1,1,1,1.3,1.8,1,1,1,1.3,1.8,1,1.6,1.6,1.3,1.8,0]},"legend":null},
       "size":{"field":"pt","type":"ordinal","scale":{"domain":["Pt.1","Pt.2","Pt.3","Pt.4","Pt.5","Pt.6","Pt.7","Pt.8","Pt.9","Pt.10","Pt.11","Pt.12","Pt.13","Pt.14","Pt.15","Average"],"range":[55,70,60,60,60,40,70,55,60,60,40,70,70,60,60,300]},"legend":null}}}
    ]},
   {"width":1,"height":143,"data":{"name":"legB"},
    "layer":[
     {"mark":{"type":"point"},
      "encoding":{"y":{"field":"pt","type":"nominal","scale":{"type":"point","domain":["Pt.1","Pt.2","Pt.4","Pt.5","Pt.7","Pt.8","Pt.9","Pt.10","Pt.13","Pt.14","Pt.15"],"range":[6,136]},"axis":null},
       "shape":{"field":"pt","type":"nominal","scale":{"domain":["Pt.1","Pt.2","Pt.3","Pt.4","Pt.5","Pt.6","Pt.7","Pt.8","Pt.9","Pt.10","Pt.11","Pt.12","Pt.13","Pt.14","Pt.15","Average"],"range":["diamond","circle","triangle-up","M-1,-1L1,1M-1,1L1,-1","M-1,-1L1,1M-1,1L1,-1M-1.2,0L1.2,0","diamond","circle","triangle-up","M-1,-1L1,1M-1,1L1,-1","M-1,-1L1,1M-1,1L1,-1M-1.2,0L1.2,0","diamond","circle","triangle-up","M-1,-1L1,1M-1,1L1,-1","M-1,-1L1,1M-1,1L1,-1M-1.2,0L1.2,0","M-1,-0.3L1,-0.3L1,0.3L-1,0.3Z"]},"legend":null},
       "fill":{"field":"pt","type":"nominal","scale":{"domain":["Pt.1","Pt.2","Pt.3","Pt.4","Pt.5","Pt.6","Pt.7","Pt.8","Pt.9","Pt.10","Pt.11","Pt.12","Pt.13","Pt.14","Pt.15","Average"],"range":["#ff0000","#ff0000","#ff0000","#ff4040","#ff2020","#2f5ff5","#2f5ff5","#2f5ff5","#4060ff","#3050f0","#66ee22","#44dd22","#66dd22","#88ee55","#66ee33","#000000"]},"legend":null},
       "stroke":{"field":"pt","type":"nominal","scale":{"domain":["Pt.1","Pt.2","Pt.3","Pt.4","Pt.5","Pt.6","Pt.7","Pt.8","Pt.9","Pt.10","Pt.11","Pt.12","Pt.13","Pt.14","Pt.15","Average"],"range":["#ff0000","#ff0000","#ff0000","#ff4040","#ff2020","#2f5ff5","#2f5ff5","#2f5ff5","#4060ff","#3050f0","#66ee22","#000000","#000000","#88ee55","#66ee33","#000000"]},"legend":null},
       "strokeWidth":{"field":"pt","type":"ordinal","scale":{"domain":["Pt.1","Pt.2","Pt.3","Pt.4","Pt.5","Pt.6","Pt.7","Pt.8","Pt.9","Pt.10","Pt.11","Pt.12","Pt.13","Pt.14","Pt.15","Average"],"range":[1,1,1,1.3,1.8,1,1,1,1.3,1.8,1,1.6,1.6,1.3,1.8,0]},"legend":null},
       "size":{"field":"pt","type":"ordinal","scale":{"domain":["Pt.1","Pt.2","Pt.3","Pt.4","Pt.5","Pt.6","Pt.7","Pt.8","Pt.9","Pt.10","Pt.11","Pt.12","Pt.13","Pt.14","Pt.15","Average"],"range":[45,50,50,45,45,25,50,35,45,45,25,50,50,45,45,80]},"legend":null}}},
     {"mark":{"type":"text","align":"left","dx":14,"fontSize":10,"fontWeight":"bold","baseline":"middle"},
      "encoding":{"y":{"field":"pt","type":"nominal"},"text":{"field":"pt"}}}
    ]}
  ]}
]
}
